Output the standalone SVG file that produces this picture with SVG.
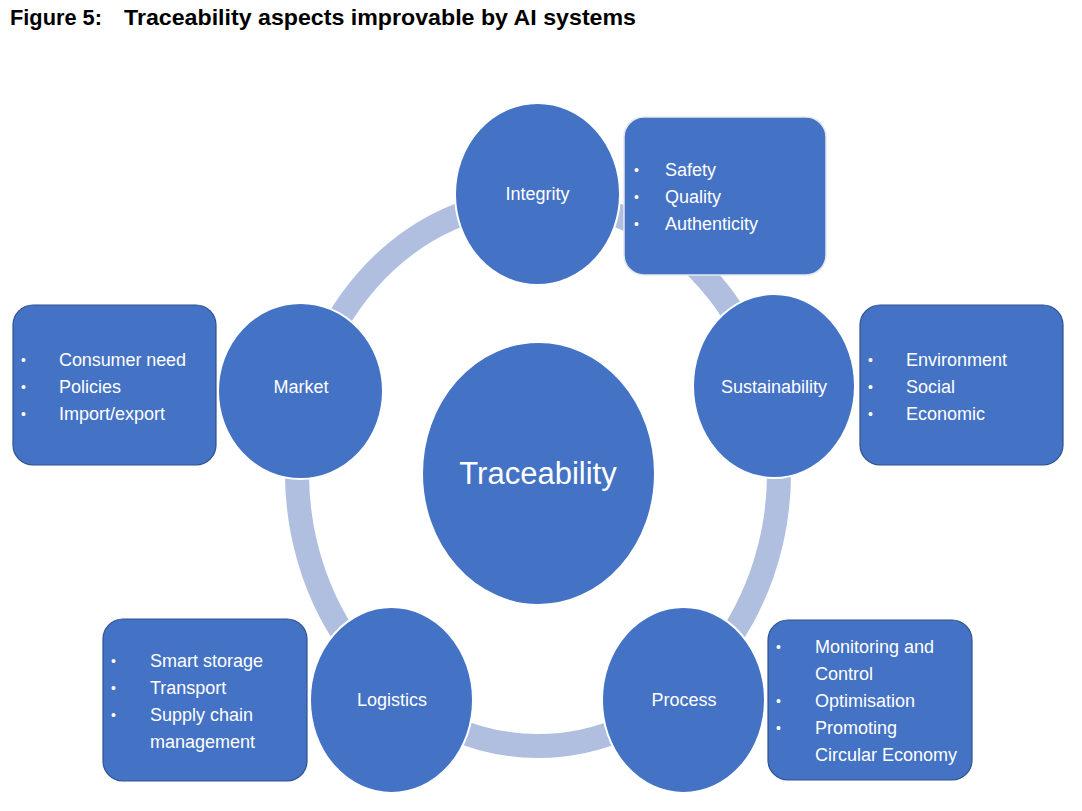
<svg xmlns="http://www.w3.org/2000/svg" width="1082" height="811" viewBox="0 0 1082 811">
<style>
.title{font-family:"Liberation Sans",Arial,sans-serif;font-weight:bold;font-size:22px;fill:#000}
.node{fill:#4472C4;stroke:#ffffff;stroke-width:2}
.box{fill:#4472C4;stroke:#2F528F;stroke-width:1.2}
.boxl{fill:#4472C4;stroke:#E4E8F0;stroke-width:1.5}
.lbl{font-family:"Liberation Sans",Arial,sans-serif;font-size:18px;fill:#ffffff;text-anchor:middle}
.big{font-family:"Liberation Sans",Arial,sans-serif;font-size:31px;fill:#ffffff;text-anchor:middle}
.li{font-family:"Liberation Sans",Arial,sans-serif;font-size:18px;fill:#ffffff}
.bul{font-family:"Liberation Sans",Arial,sans-serif;font-size:14px;fill:#ffffff}
.ring{fill:none;stroke:#B0BEE0;stroke-width:24}
</style>
<rect width="1082" height="811" fill="#ffffff"/>
<g id="title">
<text class="title" x="10" y="25" textLength="92" lengthAdjust="spacingAndGlyphs">Figure 5:</text>
<text class="title" x="124" y="25" textLength="512" lengthAdjust="spacingAndGlyphs">Traceability aspects improvable by AI systems</text>
</g>
<g id="connectors">
<ellipse class="ring" cx="538" cy="473" rx="241" ry="273"/>
</g>
<g id="traceability">
<ellipse class="node" cx="538.5" cy="473.5" rx="116.5" ry="131.5"/>
<text class="big" x="538" y="484">Traceability</text>
</g>
<g id="integrity">
<ellipse class="node" cx="537.5" cy="194" rx="82.5" ry="91"/>
<text class="lbl" x="537.5" y="200">Integrity</text>
</g>
<g id="integrity-box">
<rect class="boxl" x="624" y="117" width="202" height="158" rx="20"/>
<text class="bul" x="634" y="175">•</text><text class="li" x="665" y="176">Safety</text>
<text class="bul" x="634" y="202">•</text><text class="li" x="665" y="203">Quality</text>
<text class="bul" x="634" y="229">•</text><text class="li" x="665" y="230">Authenticity</text>
</g>
<g id="market">
<ellipse class="node" cx="300.5" cy="391" rx="82.5" ry="88"/>
<text class="lbl" x="301" y="393">Market</text>
</g>
<g id="market-box">
<rect class="box" x="13" y="305" width="203" height="160" rx="20"/>
<text class="bul" x="21" y="365">•</text><text class="li" x="59" y="366" textLength="127" lengthAdjust="spacing">Consumer need</text>
<text class="bul" x="21" y="392">•</text><text class="li" x="59" y="393">Policies</text>
<text class="bul" x="21" y="419">•</text><text class="li" x="59" y="420">Import/export</text>
</g>
<g id="sustainability">
<ellipse class="node" cx="774" cy="386" rx="81" ry="92"/>
<text class="lbl" x="774" y="393">Sustainability</text>
</g>
<g id="sustainability-box">
<rect class="box" x="860" y="305" width="203" height="160" rx="20"/>
<text class="bul" x="868" y="365">•</text><text class="li" x="906" y="366">Environment</text>
<text class="bul" x="868" y="392">•</text><text class="li" x="906" y="393">Social</text>
<text class="bul" x="868" y="419">•</text><text class="li" x="906" y="420">Economic</text>
</g>
<g id="logistics">
<ellipse class="node" cx="391.5" cy="700" rx="81.5" ry="93"/>
<text class="lbl" x="392" y="706">Logistics</text>
</g>
<g id="logistics-box">
<rect class="box" x="103" y="619" width="204" height="162" rx="20"/>
<text class="bul" x="111" y="666">•</text><text class="li" x="150" y="667">Smart storage</text>
<text class="bul" x="111" y="693">•</text><text class="li" x="150" y="694">Transport</text>
<text class="bul" x="111" y="720">•</text><text class="li" x="150" y="721">Supply chain</text>
<text class="li" x="150" y="748">management</text>
</g>
<g id="process">
<ellipse class="node" cx="683.5" cy="700" rx="81.5" ry="93"/>
<text class="lbl" x="684" y="706">Process</text>
</g>
<g id="process-box">
<rect class="box" x="768" y="620" width="204" height="160" rx="20"/>
<text class="bul" x="776" y="652">•</text><text class="li" x="815" y="653">Monitoring and</text>
<text class="li" x="815" y="680">Control</text>
<text class="bul" x="776" y="706">•</text><text class="li" x="815" y="707">Optimisation</text>
<text class="bul" x="776" y="733">•</text><text class="li" x="815" y="734">Promoting</text>
<text class="li" x="815" y="761">Circular Economy</text>
</g>
</svg>
